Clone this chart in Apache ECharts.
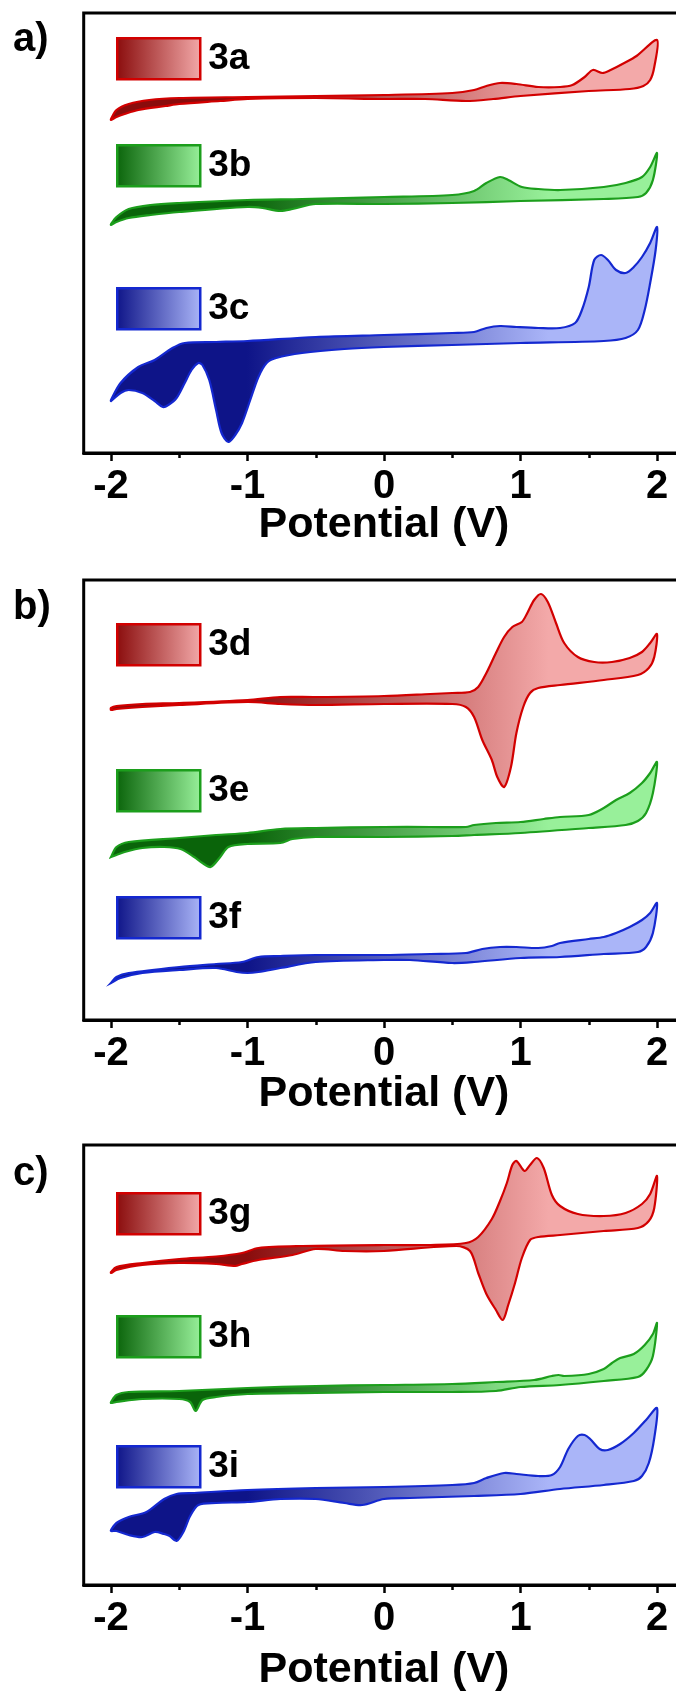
<!DOCTYPE html>
<html>
<head>
<meta charset="utf-8">
<script src="https://cdn.jsdelivr.net/npm/echarts@6.0.0/dist/echarts.min.js"></script>
<style>
html,body{margin:0;padding:0;background:#ffffff;}
#chart{width:676px;height:1695px;}
</style>
</head>
<body>
<div id="chart"></div>
<script>
// ---------- text / ticks ----------
const xMajorTicks = [-2, -1, 0, 1, 2];
const xMinorTicks = [-1.5, -0.5, 0.5, 1.5];
const panelLabels = ['a)', 'b)', 'c)'];
const axisTitle = 'Potential (V)';
const panelCurves = [['3a', '3b', '3c'], ['3d', '3e', '3f'], ['3g', '3h', '3i']];

// ---------- CV data: [potential V, current a.u.] ----------
// panel a
const fwd3a = [[-2,33.4],[-1.96,34.3],[-1.87,34.9],[-1.72,35.3],[-1.5,35.5],[-1.0,35.6],[-0.5,35.7],[0,35.8],[0.5,36.0],[0.66,36.3],[0.75,36.7],[0.85,37.0],[0.97,36.9],[1.13,36.6],[1.29,36.6],[1.38,36.8],[1.47,37.6],[1.53,38.3],[1.6,38.0],[1.66,38.3],[1.76,39.0],[1.85,39.7],[2.0,41.3]];
const rev3a = [[1.98,38.6],[1.95,37.3],[1.9,36.7],[1.8,36.4],[1.5,36.2],[1.0,35.7],[0.8,35.4],[0.6,35.2],[0.3,35.4],[0,35.4],[-0.5,35.5],[-1.0,35.4],[-1.2,35.2],[-1.5,34.9],[-1.6,34.7],[-1.8,34.3],[-1.9,33.9],[-1.96,33.6],[-2.0,33.3]];
const fwd3b = [[-2,22.9],[-1.96,23.6],[-1.87,24.4],[-1.71,24.8],[-1.5,25.0],[-1.0,25.3],[-0.6,25.4],[0,25.6],[0.5,25.8],[0.66,26.2],[0.75,27.0],[0.85,27.6],[0.91,27.3],[1.01,26.6],[1.13,26.4],[1.29,26.3],[1.61,26.6],[1.77,27.0],[1.89,27.6],[1.95,28.6],[2.0,30.0]];
const rev3b = [[1.97,27.3],[1.92,26.0],[1.86,25.6],[1.61,25.4],[1.0,25.2],[0.5,25.0],[0,24.9],[-0.5,24.9],[-0.67,24.4],[-0.76,24.2],[-0.89,24.5],[-1.0,24.6],[-1.5,24.1],[-1.71,23.8],[-1.87,23.5],[-1.96,23.1],[-2.0,22.8]];
const fwd3c = [[-2,5.3],[-1.93,7.0],[-1.8,8.6],[-1.68,9.3],[-1.55,10.5],[-1.46,11.0],[-1.23,11.1],[-1.0,11.2],[-0.5,11.6],[0,11.8],[0.5,12.0],[0.66,12.1],[0.75,12.5],[0.85,12.7],[0.97,12.6],[1.13,12.5],[1.29,12.5],[1.4,13.0],[1.45,14.3],[1.5,16.6],[1.54,19.3],[1.59,19.8],[1.64,19.3],[1.7,18.3],[1.77,18.0],[1.83,18.6],[1.89,19.6],[1.95,21.0],[2.0,22.6]];
const rev3c = [[1.99,20.3],[1.95,17.0],[1.91,14.3],[1.86,12.3],[1.77,11.5],[1.61,11.2],[1.0,11.0],[0.5,10.8],[0,10.6],[-0.29,10.4],[-0.6,10.0],[-0.79,9.5],[-0.86,9.0],[-0.92,7.6],[-0.98,5.3],[-1.04,3.0],[-1.09,1.8],[-1.14,1.1],[-1.19,2.0],[-1.23,4.3],[-1.28,7.3],[-1.33,8.8],[-1.36,9.0],[-1.41,8.3],[-1.46,7.0],[-1.52,5.5],[-1.58,4.8],[-1.62,4.6],[-1.68,5.2],[-1.77,6.0],[-1.87,6.3],[-1.93,6.0],[-2.0,5.2]];
// panel b
const fwd3d = [[-2,31.2],[-1.96,31.4],[-1.77,31.6],[-1.5,31.7],[-1.0,32.0],[-0.76,32.3],[-0.5,32.3],[0,32.4],[0.34,32.6],[0.5,32.7],[0.63,32.8],[0.69,33.3],[0.75,34.7],[0.82,36.7],[0.88,38.3],[0.94,39.3],[1.01,39.8],[1.05,40.7],[1.1,42.0],[1.15,42.6],[1.2,41.8],[1.26,39.7],[1.32,37.7],[1.42,36.3],[1.54,35.8],[1.67,35.8],[1.8,36.2],[1.89,36.8],[1.95,37.7],[2.0,38.6]];
const rev3d = [[1.98,36.3],[1.94,35.2],[1.86,34.5],[1.61,34.0],[1.29,33.5],[1.13,33.2],[1.07,32.7],[1.02,31.3],[0.97,28.7],[0.93,25.3],[0.88,23.3],[0.83,24.3],[0.79,26.0],[0.72,28.0],[0.66,30.3],[0.6,31.3],[0.5,31.6],[0,31.6],[-0.5,31.5],[-0.76,31.6],[-1.0,31.8],[-1.5,31.5],[-1.77,31.3],[-1.96,31.1],[-2.0,31.0]];
const fwd3e = [[-2,16.3],[-1.96,17.3],[-1.87,17.8],[-1.5,18.2],[-1.23,18.5],[-1.0,18.7],[-0.76,19.1],[-0.5,19.2],[0,19.3],[0.34,19.3],[0.6,19.3],[0.66,19.5],[0.82,19.7],[1.0,19.8],[1.17,20.1],[1.29,20.3],[1.5,20.5],[1.61,21.2],[1.7,22.0],[1.8,22.7],[1.89,23.7],[1.95,24.7],[2.0,25.8]];
const rev3e = [[1.97,22.7],[1.92,20.7],[1.86,19.9],[1.77,19.5],[1.5,19.2],[1.0,18.7],[0.66,18.5],[0.5,18.4],[0,18.3],[-0.5,18.3],[-0.67,18.1],[-0.76,17.7],[-1.0,17.6],[-1.14,17.3],[-1.2,16.3],[-1.27,15.3],[-1.33,15.7],[-1.39,16.3],[-1.49,17.1],[-1.61,17.3],[-1.77,17.2],[-1.9,16.8],[-1.96,16.5],[-2.0,16.3]];
const fwd3f = [[-2,3.7],[-1.96,4.3],[-1.87,4.7],[-1.5,5.3],[-1.23,5.6],[-1.04,5.8],[-0.92,6.3],[-0.76,6.4],[-0.5,6.5],[0,6.5],[0.34,6.6],[0.6,6.7],[0.72,7.1],[0.85,7.3],[0.97,7.3],[1.13,7.2],[1.23,7.4],[1.29,7.7],[1.5,8.1],[1.61,8.3],[1.7,8.7],[1.8,9.3],[1.89,10.0],[1.95,10.7],[2.0,11.7]];
const rev3f = [[1.97,8.7],[1.92,7.3],[1.86,6.8],[1.61,6.6],[1.29,6.3],[1.0,6.2],[0.66,5.8],[0.5,5.7],[0.19,6.0],[0,6.0],[-0.5,5.8],[-0.76,5.2],[-0.92,4.8],[-1.0,4.7],[-1.08,4.8],[-1.23,5.2],[-1.5,5.0],[-1.77,4.7],[-1.93,4.2],[-2.0,3.7]];
// panel c
const fwd3g = [[-2,31.3],[-1.96,31.8],[-1.77,32.2],[-1.5,32.6],[-1.23,32.85],[-1.04,33.2],[-0.92,33.7],[-0.6,33.9],[0,34.0],[0.34,34.0],[0.6,34.2],[0.69,34.8],[0.79,36.6],[0.85,38.4],[0.9,40.2],[0.94,42.0],[0.97,42.4],[1.03,41.4],[1.07,42.0],[1.12,42.7],[1.17,41.7],[1.23,39.0],[1.29,37.9],[1.42,37.1],[1.61,36.9],[1.77,37.2],[1.89,38.1],[1.95,39.1],[2.0,40.9]];
const rev3g = [[1.98,37.7],[1.94,36.4],[1.86,35.7],[1.61,35.4],[1.29,35.0],[1.13,34.8],[1.07,34.5],[1.01,32.7],[0.96,30.2],[0.91,28.0],[0.87,26.5],[0.82,27.5],[0.75,29.1],[0.69,31.2],[0.63,33.4],[0.53,33.9],[0,33.4],[-0.29,33.4],[-0.5,33.6],[-0.67,33.0],[-0.92,32.5],[-1.04,32.1],[-1.09,31.9],[-1.23,32.1],[-1.5,32.2],[-1.77,32.0],[-1.96,31.5],[-2.0,31.2]];
const fwd3h = [[-2,18.3],[-1.96,19.0],[-1.87,19.3],[-1.5,19.4],[-1.0,19.7],[-0.5,19.9],[0,20.0],[0.5,20.1],[0.82,20.3],[1.1,20.5],[1.23,20.9],[1.28,21.0],[1.32,20.9],[1.5,21.1],[1.61,21.6],[1.67,22.2],[1.73,22.7],[1.83,23.1],[1.91,24.0],[1.97,25.1],[2.0,26.2]];
const rev3h = [[1.97,22.9],[1.92,21.5],[1.86,20.8],[1.61,20.4],[1.29,20.0],[1.0,19.8],[0.82,19.4],[0.5,19.3],[0,19.3],[-0.5,19.2],[-1.0,19.1],[-1.23,18.8],[-1.33,18.5],[-1.38,17.4],[-1.42,18.3],[-1.5,18.6],[-1.77,18.6],[-1.96,18.3],[-2.0,18.2]];
const fwd3i = [[-2,5.5],[-1.96,6.2],[-1.87,6.8],[-1.74,7.3],[-1.61,8.6],[-1.52,9.1],[-1.39,9.2],[-1.0,9.5],[-0.5,9.7],[0,9.8],[0.5,10.0],[0.66,10.2],[0.75,10.7],[0.88,11.2],[0.97,11.1],[1.13,10.9],[1.23,11.0],[1.29,11.8],[1.35,13.6],[1.42,14.9],[1.47,15.0],[1.51,14.6],[1.58,13.6],[1.64,13.5],[1.73,14.1],[1.83,15.2],[1.92,16.5],[2.0,17.7]];
const rev3i = [[1.98,14.7],[1.94,12.2],[1.89,10.9],[1.83,10.4],[1.61,10.0],[1.29,9.6],[1.0,9.1],[0.66,8.9],[0.19,8.7],[0,8.6],[-0.16,8.0],[-0.29,8.2],[-0.5,8.6],[-0.76,8.6],[-1.0,8.3],[-1.23,8.2],[-1.36,8.0],[-1.42,6.9],[-1.47,5.3],[-1.52,4.4],[-1.57,4.9],[-1.61,5.1],[-1.68,5.3],[-1.77,4.8],[-1.87,5.0],[-1.96,5.4],[-2.0,5.4]];

const curveData = {
  '3a': [fwd3a, rev3a], '3b': [fwd3b, rev3b], '3c': [fwd3c, rev3c],
  '3d': [fwd3d, rev3d], '3e': [fwd3e, rev3e], '3f': [fwd3f, rev3f],
  '3g': [fwd3g, rev3g], '3h': [fwd3h, rev3h], '3i': [fwd3i, rev3i]
};

// ---------- styles & layout ----------
const FONT = "'Liberation Sans', Arial, Helvetica, sans-serif";
const palette = [
  { stroke: '#d20000', dark: '#8a0c0c', light: '#f3a9a9' },
  { stroke: '#1c9e1c', dark: '#0a640a', light: '#98f09a' },
  { stroke: '#1428d0', dark: '#0e1488', light: '#aab5f8' }
];
const gridLeft = 83.7, gridWidth = 600.6, gridHeight = 440;
const panelTops = [13, 580, 1145];
const nameGaps = [51, 53, 64];
const legendTops = [[37, 144, 287], [623, 769, 896], [1192, 1315, 1445]];
const panelLabelY = [40, 608, 1174];

function fillGrad(c) {
  return new echarts.graphic.LinearGradient(0, 0, 1, 0, [
    { offset: 0, color: c.dark }, { offset: 0.25, color: c.dark },
    { offset: 0.8, color: c.light }, { offset: 1, color: c.light }
  ]);
}
function legendGrad(c) {
  return new echarts.graphic.LinearGradient(0, 0, 1, 0, [
    { offset: 0, color: c.dark }, { offset: 1, color: c.light }
  ]);
}

const grids = [], xAxes = [], yAxes = [], series = [], legends = [], graphics = [];
panelCurves.forEach((names, p) => {
  grids.push({ left: gridLeft, top: panelTops[p], width: gridWidth, height: gridHeight,
    show: true, borderColor: '#000', borderWidth: 3, backgroundColor: 'transparent',
    outerBoundsMode: 'none', containLabel: false });
  xAxes.push({
    gridIndex: p, type: 'value', min: -2.2, max: 2.2,
    axisLine: { show: true, lineStyle: { color: '#000', width: 3 } },
    axisTick: { show: true, length: 8, lineStyle: { color: '#000', width: 2.5 }, customValues: xMajorTicks },
    axisLabel: { show: true, customValues: xMajorTicks, margin: 14, color: '#000',
      fontSize: 40, fontWeight: 'bold', fontFamily: FONT },
    splitLine: { show: false },
    name: axisTitle, nameLocation: 'middle', nameGap: nameGaps[p], nameMoveOverlap: false,
    nameTextStyle: { fontSize: 43, fontWeight: 'bold', fontFamily: FONT, color: '#000' }
  });
  xAxes.push({
    gridIndex: p, type: 'value', min: -2.2, max: 2.2, position: 'bottom',
    axisLine: { show: false },
    axisTick: { show: true, length: 5, lineStyle: { color: '#000', width: 2.5 }, customValues: xMinorTicks },
    axisLabel: { show: false }, splitLine: { show: false }
  });
  yAxes.push({ gridIndex: p, type: 'value', min: 0, max: 44, show: false, splitLine: { show: false } });
  graphics.push({ type: 'text', x: 13, y: panelLabelY[p],
    style: { text: panelLabels[p], font: 'bold 40px ' + FONT, fill: '#000', verticalAlign: 'middle' } });

  names.forEach((name, k) => {
    const c = palette[k];
    const loop = curveData[name][0].concat(curveData[name][1]);
    series.push({
      type: 'custom', name: name, coordinateSystem: 'cartesian2d',
      xAxisIndex: p * 2, yAxisIndex: p, silent: true, animation: false,
      itemStyle: { color: legendGrad(c), borderColor: c.stroke },
      data: [loop[0]],
      renderItem: function (params, api) {
        const pts = loop.map(function (pt) { return api.coord(pt); });
        return { type: 'polygon', shape: { points: pts, smooth: 0.3 },
          style: { fill: fillGrad(c), stroke: c.stroke, lineWidth: 2.2 } };
      }
    });
    legends.push({
      data: [{ name: name, icon: 'rect',
        itemStyle: { color: legendGrad(c), borderColor: c.stroke, borderWidth: 2.5 } }],
      left: 116, top: legendTops[p][k], itemWidth: 83, itemHeight: 41, padding: 0,
      selectedMode: false,
      textStyle: { fontSize: 37, fontWeight: 'bold', fontFamily: FONT, color: '#000', padding: [0, 0, 0, 3] }
    });
  });
});

const chart = echarts.init(document.getElementById('chart'), null, { renderer: 'canvas' });
chart.setOption({
  animation: false,
  backgroundColor: '#ffffff',
  grid: grids, xAxis: xAxes, yAxis: yAxes, series: series, legend: legends, graphic: graphics
});
</script>
</body>
</html>
